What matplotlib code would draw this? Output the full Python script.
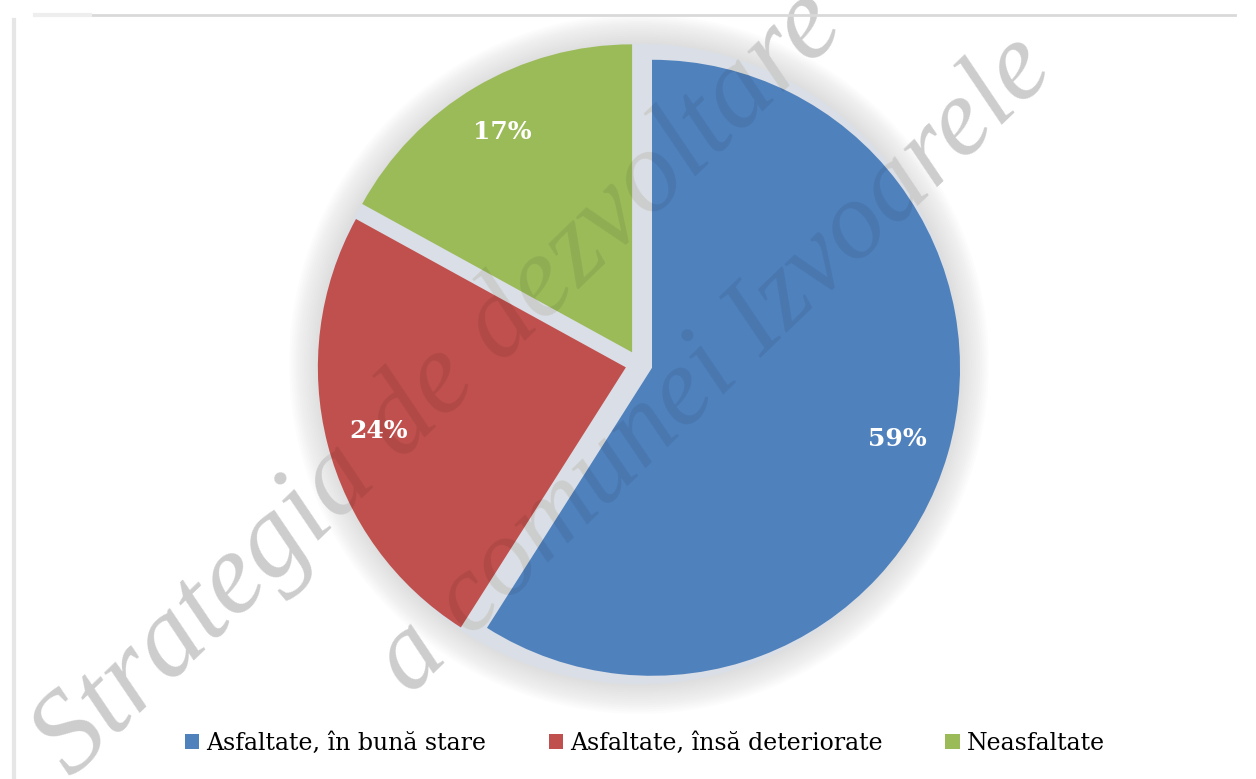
import matplotlib
matplotlib.use("Agg")
import matplotlib.pyplot as plt
from matplotlib.patches import Circle, Patch

# ---- data ----
categories = ["Asfaltate, în bună stare", "Asfaltate, însă deteriorate", "Neasfaltate"]
values = [59, 24, 17]
colors = ["#4F81BD", "#C0504D", "#9BBB59"]
watermark_lines = ["Strategia de dezvoltare", "a comunei Izvoarele"]

W, H = 1256, 779
CX, CY, R = 639, 364, 308  # pie centre / radius in pixels (layout)

fig = plt.figure(figsize=(W / 100, H / 100), dpi=100)
fig.patch.set_facecolor("white")
ax = fig.add_axes([0, 0, 1, 1])

# frame lines of the chart area
fig.add_artist(plt.Line2D([90 / W, 1235 / W], [1 - 15 / H, 1 - 15 / H], color="#d9d9d9", lw=2))
fig.add_artist(plt.Line2D([35 / W, 90 / W], [1 - 15 / H, 1 - 15 / H], color="#eeeeee", lw=3))
fig.add_artist(plt.Line2D([14 / W, 14 / W], [0, 1 - 20 / H], color="#e6e6e6", lw=3))

# soft shadow / glow under the pie
for i in range(14):
    ax.add_patch(Circle((0, 0), 1.045 + i * 0.007, color="#8a8a8a", alpha=0.02, lw=0, zorder=0))
ax.add_patch(Circle((0, 0), 1.04, color="#dadee6", lw=0, zorder=0.5))

wedges, texts, autotexts = ax.pie(
    values,
    colors=colors,
    startangle=90,
    counterclock=False,
    explode=[0.044] * len(values),
    radius=1,
    center=(0, 0),
    autopct=lambda p: f"{p:.0f}%",
    pctdistance=0.83,
    wedgeprops=dict(linewidth=0, zorder=1),
    textprops=dict(color="white", fontsize=18, fontweight="bold", family="DejaVu Serif", zorder=12),
    frame=True,
)
ax.axis("off")
ax.set_aspect("equal")
ax.set_xlim((0 - CX) / R, (W - CX) / R)
ax.set_ylim((CY - H) / R, (CY - 0) / R)

# legend
handles = [Patch(facecolor=c, edgecolor="none") for c in colors]
fig.legend(
    handles, categories,
    loc="center", bbox_to_anchor=(645 / W, 1 - 743 / H),
    ncol=3, frameon=False,
    handlelength=0.6, handleheight=0.6, handletextpad=0.3,
    columnspacing=2.65,
    prop=dict(family="DejaVu Serif", size=17),
)

# watermark: light gray under the pie, faint dark overlay on top of it
wm_common = dict(family="Liberation Serif", style="italic", rotation_mode="anchor",
                 ha="center", va="center", transform=fig.transFigure, clip_on=False)
positions = [((440 / W, 1 - 385 / H), 84), ((715 / W, 1 - 365 / H), 80)]
for line, ((x, y), fs) in zip(watermark_lines, positions):
    ax.text(x, y, line, fontsize=fs, rotation=44, color="#dedede", zorder=0.9, **wm_common)
    ax.text(x, y, line, fontsize=fs, rotation=44, color="black", alpha=0.08, zorder=10, **wm_common)

fig.savefig("out.png", dpi=100, facecolor="white")
